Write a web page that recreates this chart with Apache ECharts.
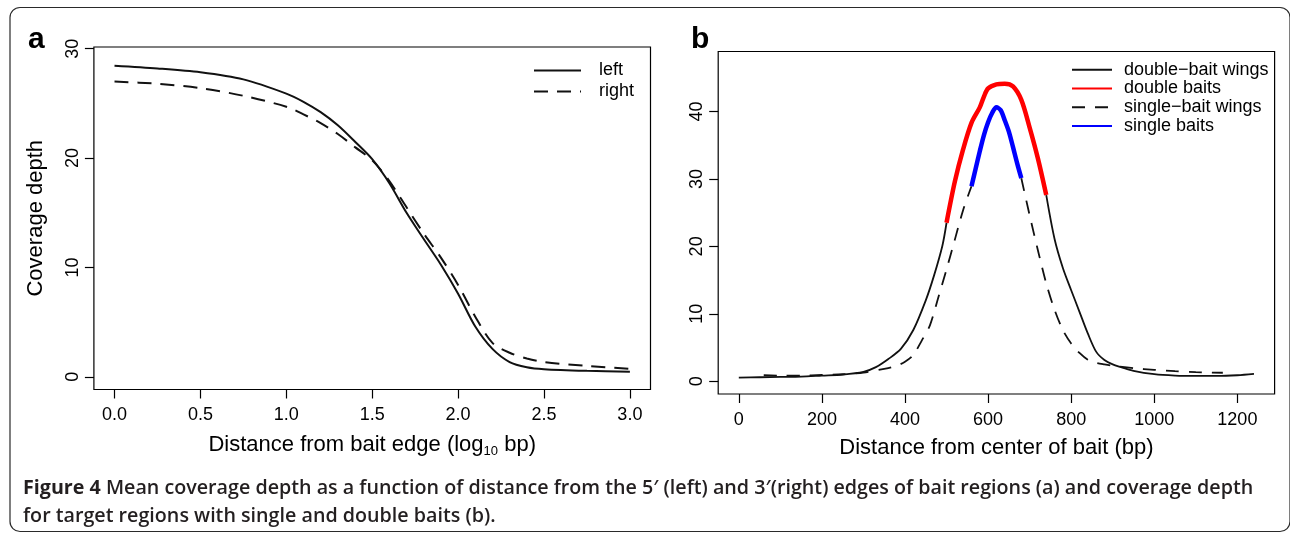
<!DOCTYPE html>
<html><head><meta charset="utf-8">
<script src="https://cdn.jsdelivr.net/npm/echarts@6/dist/echarts.min.js"></script>
<style>html,body{margin:0;padding:0;background:#fff}#c{width:1290px;height:533px}</style>
</head><body><div id="c"></div><script>
// ---------- Panel a data ----------
const aX      = [0, 0.25, 0.5, 0.75, 1.0, 1.1, 1.2, 1.3, 1.4, 1.5, 1.6, 1.7, 1.8, 1.9, 2.0, 2.1, 2.2, 2.3, 2.4, 2.5, 2.75, 3.0];
const leftY   = [28.45, 28.2, 27.85, 27.2, 25.9, 25.15, 24.2, 23.0, 21.5, 19.9, 17.7, 15.0, 12.6, 10.25, 7.6, 4.6, 2.55, 1.35, 0.88, 0.7, 0.55, 0.47];
const rightY  = [27.0, 26.8, 26.4, 25.7, 24.7, 24.0, 23.2, 22.2, 21.0, 19.8, 17.9, 15.5, 13.1, 10.9, 8.4, 5.5, 3.1, 2.2, 1.68, 1.35, 1.0, 0.72];
const aXTicks = [0, 0.5, 1.0, 1.5, 2.0, 2.5, 3.0];
const aYTicks = [0, 10, 20, 30];

// ---------- Panel b data ----------
const dwLeftX  = [0, 50, 100, 150, 200, 250, 300, 330, 360, 390, 420, 450, 470, 490, 500];
const dwLeftY  = [0.55, 0.6, 0.65, 0.7, 0.85, 1.0, 1.4, 2.1, 3.3, 4.8, 7.6, 12.0, 15.7, 20.1, 23.5];
const dbX      = [500, 520, 540, 560, 580, 590, 600, 620, 640, 660, 680, 700, 720, 740];
const dbY      = [23.5, 29.6, 34.4, 38.3, 40.6, 42.2, 43.4, 44.0, 44.1, 43.7, 41.7, 37.6, 33.0, 27.6];
const dwRightX = [740, 760, 780, 800, 820, 840, 860, 880, 900, 920, 950, 1000, 1050, 1100, 1150, 1200, 1240];
const dwRightY = [27.6, 21.1, 16.8, 13.5, 10.3, 7.1, 4.4, 3.15, 2.5, 2.1, 1.55, 1.05, 0.85, 0.8, 0.8, 0.9, 1.1];
const swLeftX  = [60, 100, 150, 200, 250, 300, 350, 380, 400, 420, 440, 460, 480, 500, 520, 540, 560];
const swLeftY  = [0.9, 0.85, 0.85, 0.95, 1.05, 1.3, 1.85, 2.3, 2.9, 3.9, 6.0, 8.3, 12.4, 16.6, 21.0, 25.4, 28.9];
const sbX      = [560, 570, 580, 590, 600, 610, 620, 630, 640, 650, 660, 670, 680];
const sbY      = [28.9, 31.5, 34.1, 36.5, 38.4, 39.8, 40.6, 40.2, 38.7, 37.0, 34.7, 32.3, 30.1];
const swRightX = [680, 700, 720, 740, 760, 780, 800, 820, 840, 860, 880, 900, 950, 1000, 1050, 1100, 1165];
const swRightY = [30.1, 24.6, 19.4, 14.5, 10.6, 7.6, 5.6, 4.2, 3.2, 2.75, 2.5, 2.3, 1.95, 1.7, 1.5, 1.35, 1.27];
const bXTicks = [0, 200, 400, 600, 800, 1000, 1200];
const bYTicks = [0, 10, 20, 30, 40];

const captionLine1 = 'Mean coverage depth as a function of distance from the 5\u2032 (left) and 3\u2032(right) edges of bait regions (a) and coverage depth';
const captionLine2 = 'for target regions with single and double baits (b).';

const zip = (xs, ys) => xs.map((x, i) => [x, ys[i]]);
const BREAK = ['-', '-'];
const FF = '"Liberation Sans", Arial, Helvetica, sans-serif';
const CF = '"Open Sans", sans-serif';
const INK = '#111';

function axisBase(min, max, ticks, fmt, isY, margin) {
  return {
    type: 'value', min: min, max: max,
    axisLine: { show: false, onZero: false },
    splitLine: { show: false },
    axisTick: { show: true, length: 9, customValues: ticks, lineStyle: { color: '#000', width: 1.2 } },
    axisLabel: { customValues: ticks, formatter: fmt, fontSize: 18, color: '#000', fontFamily: FF,
                 margin: margin, rotate: isY ? 90 : 0 }
  };
}

const legendText = (lh, pad) => ({ fontSize: 18, fontFamily: FF, color: '#000', lineHeight: lh, padding: [0, 0, 0, pad] });

const chart = echarts.init(document.getElementById('c'), null, { renderer: 'canvas' });
const option = {
  animation: false,
  backgroundColor: '#fff',
  grid: [
    { left: 93.9, top: 47, width: 556.6, height: 342.5, show: true, borderColor: '#000', borderWidth: 1.2 },
    { left: 718.2, top: 51.5, width: 556.4, height: 342.5, show: true, borderColor: '#000', borderWidth: 1.2 }
  ],
  xAxis: [
    Object.assign(axisBase(-0.12, 3.12, aXTicks, v => v.toFixed(1), false, 17), {
      gridIndex: 0,
      name: '{t|Distance from bait edge (log}{s|10}{t| bp)}',
      nameLocation: 'middle', nameGap: 43,
      nameTextStyle: { rich: { t: { fontSize: 22, fontFamily: FF, color: '#000' },
                               s: { fontSize: 13, fontFamily: FF, color: '#000', padding: [12, 0, 0, 0] } } }
    }),
    Object.assign(axisBase(-49.6, 1289.6, bXTicks, v => String(v), false, 17), {
      gridIndex: 1,
      name: 'Distance from center of bait (bp)',
      nameLocation: 'middle', nameGap: 43,
      nameTextStyle: { fontSize: 22, fontFamily: FF, color: '#000' }
    })
  ],
  yAxis: [
    Object.assign(axisBase(-1.16, 30.16, aYTicks, v => String(v), true, 12), {
      gridIndex: 0,
      name: 'Coverage depth', nameLocation: 'middle', nameGap: 47, nameRotate: 90,
      nameTextStyle: { fontSize: 22, fontFamily: FF, color: '#000' }
    }),
    Object.assign(axisBase(-1.88, 48.88, bYTicks, v => String(v), true, 12), { gridIndex: 1 })
  ],
  legend: [
    { orient: 'vertical', left: 533, top: 60, padding: 0, itemWidth: 47, itemHeight: 14, itemGap: 0,
      itemStyle: { color: 'rgba(0,0,0,0)', borderWidth: 0, opacity: 0 },
      data: ['left', 'right'], textStyle: legendText(21, 13) },
    { orient: 'vertical', left: 1071, top: 60.3, padding: 0, itemWidth: 40, itemHeight: 14, itemGap: 0,
      itemStyle: { color: 'rgba(0,0,0,0)', borderWidth: 0, opacity: 0 },
      data: ['double\u2212bait wings', 'double baits', 'single\u2212bait wings', 'single baits'],
      textStyle: legendText(18.8, 7) }
  ],
  series: [
    { name: 'left', type: 'line', xAxisIndex: 0, yAxisIndex: 0, showSymbol: false, symbol: 'none',
      smooth: 0.3, data: zip(aX, leftY), lineStyle: { color: INK, width: 2 }, itemStyle: { color: INK } },
    { name: 'right', type: 'line', xAxisIndex: 0, yAxisIndex: 0, showSymbol: false, symbol: 'none',
      smooth: 0.3, data: zip(aX, rightY), lineStyle: { color: INK, width: 2, type: [14, 9] }, itemStyle: { color: INK } },

    { name: 'double\u2212bait wings', type: 'line', xAxisIndex: 1, yAxisIndex: 1, symbol: 'none', smooth: 0.3,
      data: zip(dwLeftX, dwLeftY).concat([BREAK], zip(dwRightX, dwRightY)),
      lineStyle: { color: INK, width: 1.8 }, itemStyle: { color: INK } },
    { name: 'single\u2212bait wings', type: 'line', xAxisIndex: 1, yAxisIndex: 1, symbol: 'none', smooth: 0.3,
      data: zip(swLeftX, swLeftY).concat([BREAK], zip(swRightX, swRightY)),
      lineStyle: { color: INK, width: 1.8, type: [13, 10] }, itemStyle: { color: INK } },
    { name: 'double baits', type: 'line', xAxisIndex: 1, yAxisIndex: 1, symbol: 'none', smooth: 0.3,
      data: zip(dbX, dbY), lineStyle: { color: '#ff0000', width: 4.5 }, itemStyle: { color: '#ff0000' } },
    { name: 'single baits', type: 'line', xAxisIndex: 1, yAxisIndex: 1, symbol: 'none', smooth: 0.3,
      data: zip(sbX, sbY), lineStyle: { color: '#0000ff', width: 4.5 }, itemStyle: { color: '#0000ff' } }
  ],
  graphic: [
    { type: 'rect', shape: { x: 10, y: 7.5, width: 1280, height: 524, r: 10 }, silent: true,
      style: { fill: 'none', stroke: '#2a2a2a', lineWidth: 1.2 } },
    { type: 'text', x: 28, y: 40, silent: true,
      style: { text: 'a', font: 'bold 30px "Liberation Sans", Arial, sans-serif', fill: '#000', verticalAlign: 'middle' } },
    { type: 'text', x: 691, y: 40, silent: true,
      style: { text: 'b', font: 'bold 30px "Liberation Sans", Arial, sans-serif', fill: '#000', verticalAlign: 'middle' } },
    { type: 'text', x: 23, y: 488.5, silent: true,
      style: { text: '{b|Figure 4} ' + captionLine1, verticalAlign: 'middle',
               font: '600 19.7px "Open Sans", sans-serif', fill: '#231f20',
               rich: { b: { fontWeight: 'bold', fontSize: 19.7, fontFamily: CF, fill: '#231f20' } } } },
    { type: 'text', x: 23, y: 516, silent: true,
      style: { text: captionLine2, verticalAlign: 'middle', font: '600 19.7px "Open Sans", sans-serif', fill: '#231f20' } }
  ]
};
chart.setOption(option);
</script></body></html>
